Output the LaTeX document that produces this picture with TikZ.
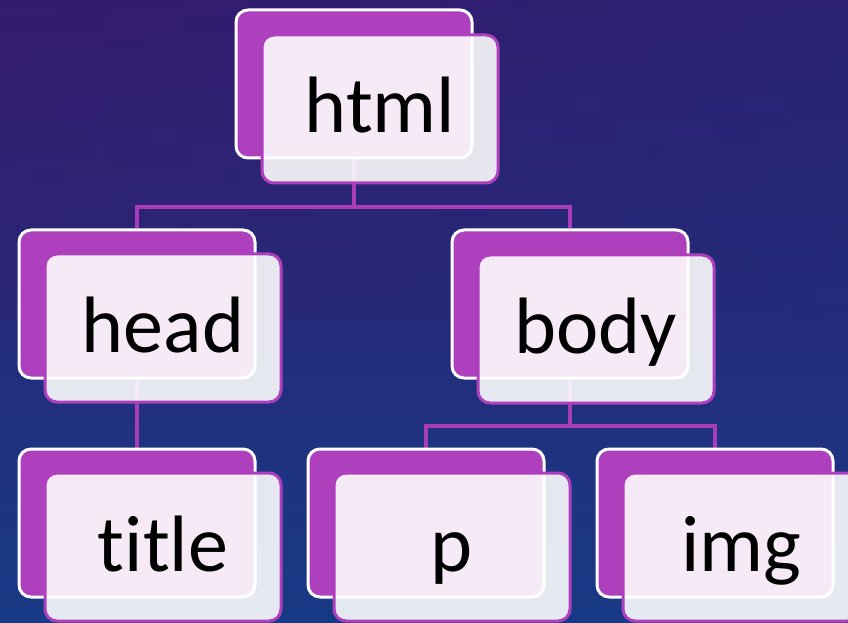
\documentclass[tikz,border=0pt]{standalone}
\usepackage{fontspec}
\setmainfont{Carlito}[Ligatures=NoCommon]
\definecolor{BgTop}{HTML}{301D70}
\definecolor{BgBottom}{HTML}{183A86}
\definecolor{BgLeft}{HTML}{42186C}
\definecolor{BgRight}{HTML}{1E2C7A}
\definecolor{BoxPurple}{HTML}{AE40BE}
\definecolor{LinkPurple}{HTML}{A93CB8}
\pgfdeclarelayer{backdrop}
\pgfdeclarelayer{links}
\pgfsetlayers{backdrop,links,main}
\begin{document}
\begin{tikzpicture}[x=0.75pt,y=-0.75pt]
	\tikzstyle{Back} = [rectangle, rounded corners=9pt, draw=white, line width=2.25pt, fill=BoxPurple, minimum width=177pt, minimum height=111pt, inner sep=0pt]
	\tikzstyle{Front} = [rectangle, rounded corners=9pt, draw=BoxPurple, line width=2.25pt, fill=white, fill opacity=0.89, text opacity=1, minimum width=177pt, minimum height=111pt, inner sep=0pt, font=\fontsize{60}{62}\selectfont, text height=44pt, text depth=8pt]
	\tikzstyle{Link} = [draw=LinkPurple, line width=2.6pt]
	\useasboundingbox (0,0) rectangle (848,623);
	\begin{pgfonlayer}{backdrop}
		\shade [top color=BgTop, bottom color=BgBottom] (0,0) rectangle (848,623);
		\shade [left color=BgLeft, right color=BgRight, opacity=0.25] (0,0) rectangle (848,320);
	\end{pgfonlayer}
	\node (htmlB) at (354,84) [Back] {};
	\node (html) at (380,109) [Front] {html};
	\node (headB) at (137,304) [Back] {};
	\node (head) at (163,328) [Front] {head};
	\node (bodyB) at (570,304) [Back] {};
	\node (body) at (596,329) [Front] {body};
	\node (titleB) at (137,523) [Back] {};
	\node (title) at (163,547) [Front] {title};
	\node (pB) at (426,523) [Back] {};
	\node (p) at (452,547) [Front] {p};
	\node (imgB) at (715,523) [Back] {};
	\node (img) at (741,547) [Front] {img};
	\begin{pgfonlayer}{links}
		\coordinate (j1) at (354,207);
		\coordinate (j2) at (570,426);
		\draw [Link] (htmlB) -- (j1) -| (headB);
		\draw [Link] (j1) -| (bodyB);
		\draw [Link] (headB) -- (titleB);
		\draw [Link] (bodyB) -- (j2) -| (pB);
		\draw [Link] (j2) -| (imgB);
	\end{pgfonlayer}
\end{tikzpicture}
\end{document}
